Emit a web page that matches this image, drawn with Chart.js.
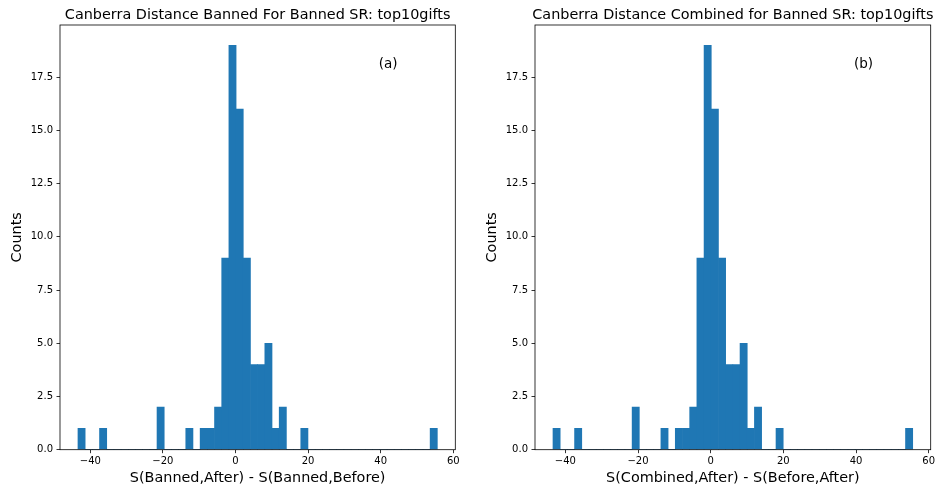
<!DOCTYPE html>
<html>
<head>
<meta charset="utf-8">
<script src="https://cdn.jsdelivr.net/npm/chart.js@4.4.0/dist/chart.umd.min.js"></script>
<style>
  body { margin: 0; background: #fff; }
  #wrap { position: relative; width: 938px; height: 489px; }
  canvas { position: absolute; top: 0; }
</style>
</head>
<body>
<div id="wrap">
  <canvas id="histBanned" width="469" height="489" style="left:0"></canvas>
  <canvas id="histCombined" width="469" height="489" style="left:469px"></canvas>
</div>
<script>
// 50 equal-width bins between the smallest and largest score difference
var binLow = -43.4;
var binHigh = 55.6;
var binCount = 50;

var bannedCounts = [1, 0, 0, 1, 0, 0, 0, 0, 0, 0,
                    0, 2, 0, 0, 0, 1, 0, 1, 1, 2,
                    9, 19, 16, 9, 4, 4, 5, 1, 2, 0,
                    0, 1, 0, 0, 0, 0, 0, 0, 0, 0,
                    0, 0, 0, 0, 0, 0, 0, 0, 0, 1];

var combinedCounts = [1, 0, 0, 1, 0, 0, 0, 0, 0, 0,
                      0, 2, 0, 0, 0, 1, 0, 1, 1, 2,
                      9, 19, 16, 9, 4, 4, 5, 1, 2, 0,
                      0, 1, 0, 0, 0, 0, 0, 0, 0, 0,
                      0, 0, 0, 0, 0, 0, 0, 0, 0, 1];

var xTicks = [-40, -20, 0, 20, 40, 60];
var yTicks = [0, 2.5, 5, 7.5, 10, 12.5, 15, 17.5];

Chart.defaults.font.family = "'DejaVu Sans', sans-serif";
Chart.defaults.color = '#000';

function binData(counts) {
    var width = (binHigh - binLow) / binCount;
    var pts = [];
    for (var i = 0; i < counts.length; i++) {
        pts.push({x: binLow + (i + 0.5) * width, y: counts[i]});
    }
    return pts;
}

function makeHist(canvasId, counts, title, xLabel, tag, padLeft, padRight) {
    var span = binHigh - binLow;

    // frame, title and panel letter
    var decorations = {
        id: 'decorations',
        afterDraw: function (chart) {
            var ctx = chart.ctx;
            var a = chart.chartArea;
            ctx.save();
            ctx.strokeStyle = '#000';
            ctx.lineWidth = 0.8;
            ctx.strokeRect(a.left, a.top, a.right - a.left, a.bottom - a.top);
            ctx.fillStyle = '#000';
            ctx.textAlign = 'center';
            ctx.textBaseline = 'alphabetic';
            ctx.font = "14.4px 'DejaVu Sans'";
            ctx.fillText(title, (a.left + a.right) / 2, 19);
            ctx.font = "13.5px 'DejaVu Sans'";
            ctx.fillText(tag, a.left + 0.83 * (a.right - a.left), a.top + 43);
            ctx.restore();
        }
    };

    return new Chart(document.getElementById(canvasId), {
        type: 'bar',
        data: {
            datasets: [{
                data: binData(counts),
                backgroundColor: '#1f77b4',
                borderWidth: 0,
                barPercentage: 1,
                categoryPercentage: 1
            }]
        },
        options: {
            responsive: false,
            animation: false,
            devicePixelRatio: 1,
            layout: {padding: {top: 25, left: padLeft, right: padRight, bottom: 0}},
            plugins: {legend: {display: false}, tooltip: {enabled: false}},
            scales: {
                x: {
                    type: 'linear',
                    offset: false,
                    min: binLow - 0.05 * span,
                    max: binHigh + 0.05 * span,
                    afterBuildTicks: function (scale) {
                        scale.ticks = xTicks.map(function (v) { return {value: v}; });
                    },
                    afterFit: function (scale) { scale.height = 39.3; },
                    border: {display: false},
                    grid: {offset: false, drawOnChartArea: false, tickLength: 3.5, tickColor: '#000', tickWidth: 0.8},
                    ticks: {
                        font: {size: 10},
                        padding: 2,
                        maxRotation: 0,
                        callback: function (v) { return v < 0 ? '\u2212' + Math.abs(v) : String(v); }
                    },
                    title: {display: true, text: xLabel, font: {size: 14.4}, padding: {top: 2.4, bottom: 2.4}}
                },
                y: {
                    min: 0,
                    max: 19.95,
                    afterBuildTicks: function (scale) {
                        scale.ticks = yTicks.map(function (v) { return {value: v}; });
                    },
                    afterFit: function (scale) { scale.width = 60; },
                    border: {display: false},
                    grid: {drawOnChartArea: false, tickLength: 3.5, tickColor: '#000', tickWidth: 0.8},
                    ticks: {
                        font: {size: 10},
                        padding: 3.5,
                        callback: function (v) { return v.toFixed(1); }
                    },
                    title: {display: true, text: 'Counts', font: {size: 14.4}, padding: {top: 9, bottom: 9}}
                }
            }
        },
        plugins: [decorations]
    });
}

makeHist('histBanned', bannedCounts,
    'Canberra Distance Banned For Banned SR: top10gifts',
    'S(Banned,After) - S(Banned,Before)', '(a)', 0, 13.7);
makeHist('histCombined', combinedCounts,
    'Canberra Distance Combined for Banned SR: top10gifts',
    'S(Combined,After) - S(Before,After)', '(b)', 6, 7.3);
</script>
</body>
</html>
